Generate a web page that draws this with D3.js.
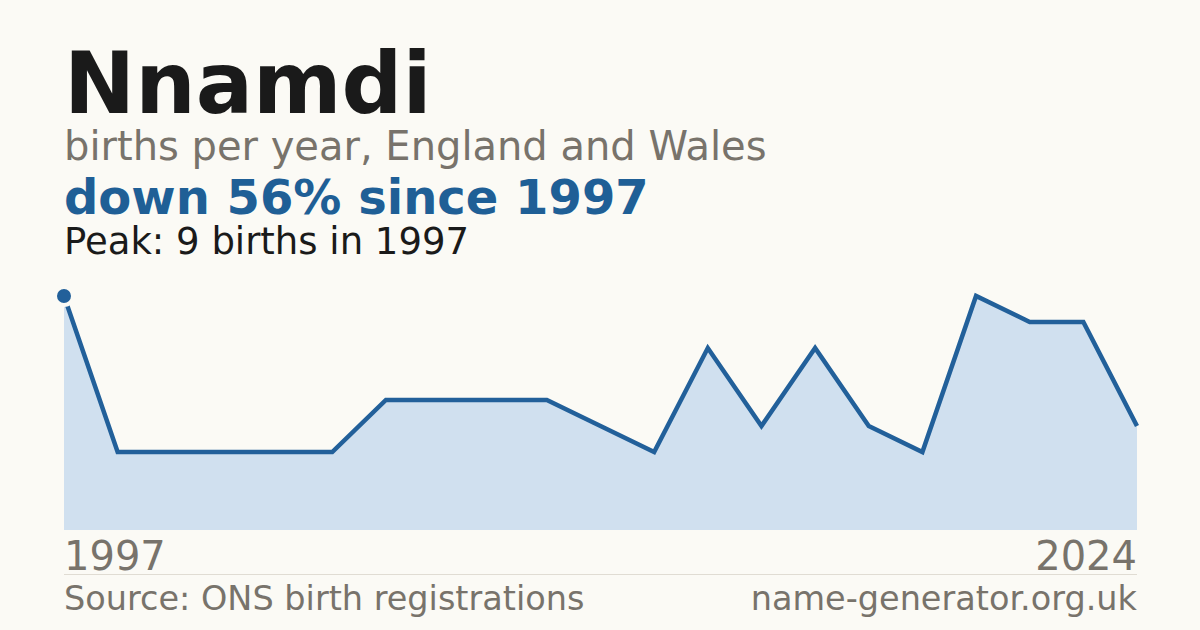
<!DOCTYPE html>
<html lang="en">
<head>
<meta charset="UTF-8">
<title>Nnamdi</title>
<script src="https://cdn.jsdelivr.net/npm/d3@7"></script>
<style>
    html, body { margin: 0; padding: 0; background: #fbfaf5; }
    svg { display: block; font-family: "DejaVu Sans", sans-serif; }
</style>
</head>
<body>
<div id="chart"></div>
<script>
    // years with published counts (ONS suppresses small values)
    var years = [1997, 1999, 2001, 2002, 2004, 2005, 2006, 2008, 2009, 2010, 2011,
                 2012, 2013, 2014, 2015, 2016, 2017, 2018, 2019, 2022, 2024];
    var births = [9, 3, 3, 3, 3, 3, 5, 5, 5, 5, 4,
                  3, 7, 4, 7, 4, 3, 9, 8, 8, 4];
    var endLabels = ["1997", "2024"];

    var width = 1200, height = 630;
    var plotLeft = 64, plotRight = 1137;
    var plotTop = 296, plotBottom = 530;

    var svg = d3.select("#chart").append("svg")
        .attr("width", width)
        .attr("height", height);

    svg.append("rect").attr("width", width).attr("height", height).attr("fill", "#fbfaf5");

    var data = years.map(function (y, i) { return { year: y, value: births[i] }; });

    var x = d3.scalePoint().domain(years).range([plotLeft, plotRight]);
    var y = d3.scaleLinear().domain([0, d3.max(births)]).range([plotBottom, plotTop]);

    // header texts
    svg.append("text").attr("x", 64).attr("y", 113)
        .attr("font-size", 85).attr("font-weight", "bold").attr("fill", "#1a1a1a")
        .text("Nnamdi");
    svg.append("text").attr("x", 64).attr("y", 160)
        .attr("font-size", 40).attr("fill", "#78736b")
        .text("births per year, England and Wales");
    svg.append("text").attr("x", 64).attr("y", 214)
        .attr("font-size", 48).attr("font-weight", "bold").attr("fill", "#1f5f96")
        .text("down 56% since 1997");
    svg.append("text").attr("x", 64).attr("y", 254)
        .attr("font-size", 37).attr("fill", "#1a1a1a")
        .text("Peak: 9 births in 1997");

    // area + line
    var area = d3.area()
        .x(function (d) { return x(d.year); })
        .y0(plotBottom)
        .y1(function (d) { return y(d.value); });
    var line = d3.line()
        .x(function (d) { return x(d.year); })
        .y(function (d) { return y(d.value); });

    svg.append("path").datum(data).attr("d", area).attr("fill", "#d0e0ef");
    svg.append("path").datum(data).attr("d", line)
        .attr("fill", "none").attr("stroke", "#22609a").attr("stroke-width", 4.5)
        .attr("stroke-linejoin", "miter");

    var peak = data[d3.maxIndex(births)];
    svg.append("circle")
        .attr("cx", x(peak.year)).attr("cy", y(peak.value)).attr("r", 9)
        .attr("fill", "#22609a").attr("stroke", "#fbfaf5").attr("stroke-width", 4);

    // end year labels
    svg.append("text").attr("x", plotLeft).attr("y", 570)
        .attr("font-size", 40).attr("fill", "#78736b").text(endLabels[0]);
    svg.append("text").attr("x", plotRight).attr("y", 570).attr("text-anchor", "end")
        .attr("font-size", 40).attr("fill", "#78736b").text(endLabels[1]);

    // divider + footer
    svg.append("line").attr("x1", plotLeft).attr("x2", plotRight).attr("y1", 574.5).attr("y2", 574.5)
        .attr("stroke", "#e0dcd3").attr("stroke-width", 1);
    svg.append("text").attr("x", plotLeft).attr("y", 610)
        .attr("font-size", 33.5).attr("fill", "#78736b").text("Source: ONS birth registrations");
    svg.append("text").attr("x", plotRight).attr("y", 610).attr("text-anchor", "end")
        .attr("font-size", 33.5).attr("fill", "#78736b").text("name-generator.org.uk");
</script>
</body>
</html>
